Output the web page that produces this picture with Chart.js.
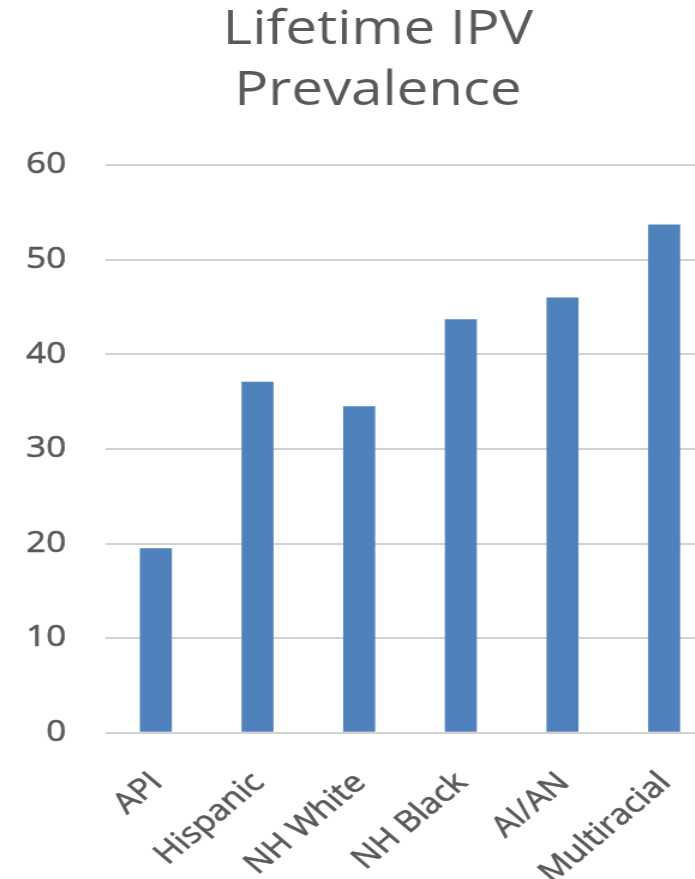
<!DOCTYPE html>
<html>
<head>
<meta charset="utf-8">
<title>Lifetime IPV Prevalence</title>
<script src="https://cdn.jsdelivr.net/npm/chart.js@4.4.0/dist/chart.umd.min.js"></script>
<style>
  html, body { margin: 0; padding: 0; background: #ffffff; overflow: hidden; width: 695px; height: 879px; }
</style>
</head>
<body>
<!-- drawing surface is 630 px wide, shown 1.2x wider -->
<canvas id="chart" width="630" height="879" style="display:block;width:756px;height:879px"></canvas>
<script>
// Lifetime intimate partner violence prevalence (%) by race/ethnicity
const categories = ['API', 'Hispanic', 'NH White', 'NH Black', 'AI/AN', 'Multiracial'];
const prevalence = [19.5, 37.1, 34.5, 43.7, 46.0, 53.7];
const yTicks = [0, 10, 20, 30, 40, 50, 60];
const titleLines = ['Lifetime IPV', 'Prevalence'];

const textColor = '#595959';
const gridColor = '#d2d2d2';
const barColor = '#4f81bd';
const fontFamily = "'Open Sans', 'DejaVu Sans', sans-serif";

new Chart(document.getElementById('chart'), {
  type: 'bar',
  data: {
    labels: categories,
    datasets: [{
      label: 'Lifetime IPV prevalence',
      data: prevalence,
      backgroundColor: barColor,
      borderWidth: 0,
      barPercentage: 0.315,
      categoryPercentage: 1.0
    }]
  },
  options: {
    responsive: false,
    animation: false,
    devicePixelRatio: 1,
    layout: { padding: 0 },
    plugins: {
      legend: { display: false },
      tooltip: { enabled: false },
      title: {
        display: true,
        text: titleLines,
        color: textColor,
        font: { family: fontFamily, size: 47, weight: 'normal', lineHeight: 1.3 },
        padding: { top: 0, bottom: 42.8 }
      }
    },
    scales: {
      x: {
        grid: { display: false, drawTicks: false },
        border: { display: false },
        ticks: {
          color: textColor,
          textStrokeColor: textColor,
          textStrokeWidth: 0.6,
          font: { family: fontFamily, size: 29 },
          minRotation: 45,
          maxRotation: 45,
          autoSkip: false,
          padding: 33,
          labelOffset: 1
        },
        afterFit(scale) { scale.height = 146.2; }
      },
      y: {
        min: 0,
        max: 60,
        grid: { color: gridColor, lineWidth: 2, drawTicks: false },
        border: { display: false },
        ticks: {
          color: textColor,
          textStrokeColor: textColor,
          textStrokeWidth: 0.6,
          font: { family: fontFamily, size: 29 },
          padding: 32.5
        },
        afterBuildTicks(scale) { scale.ticks = yTicks.map(v => ({ value: v })); },
        afterFit(scale) { scale.width = 87.5; }
      },
      // empty margin on the right of the plot
      spacer: {
        type: 'linear',
        position: 'right',
        display: true,
        ticks: { display: false },
        grid: { display: false, drawTicks: false },
        border: { display: false },
        afterFit(scale) { scale.width = 34.2; }
      }
    }
  }
});
</script>
</body>
</html>
